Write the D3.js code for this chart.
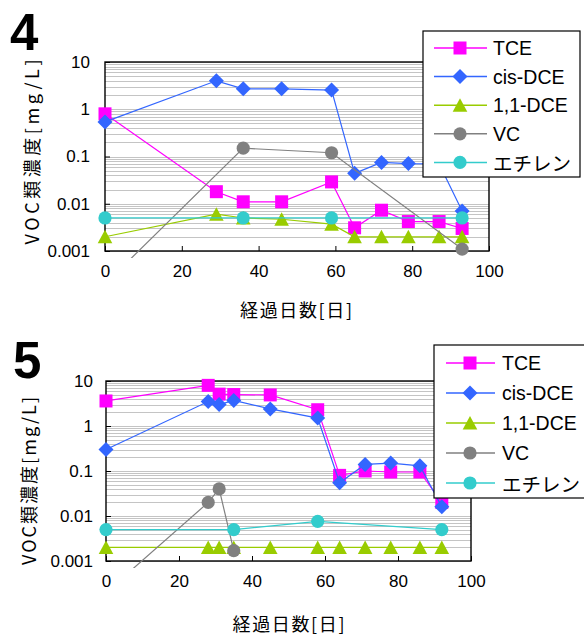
<!DOCTYPE html>
<html><head><meta charset="utf-8">
<script src="https://cdn.jsdelivr.net/npm/d3@7"></script>
<style>body{margin:0;background:#fff}svg{display:block}</style>
</head><body>
<svg id="c" width="584" height="635"></svg>
<script>
// ---------- shared ----------
const seriesNames = ["TCE", "cis-DCE", "1,1-DCE", "VC", "エチレン"];
const seriesColors = ["#ff00ff", "#3366ff", "#99cc00", "#808080", "#33cccc"];
const seriesSymbols = ["square", "diamond", "triangle", "circle", "circle"];
const xTickValues = [0, 20, 40, 60, 80, 100];
const yTickValues = [0.001, 0.01, 0.1, 1, 10];
const yTickLabels = ["0.001", "0.01", "0.1", "1", "10"];
const xAxisTitle = "経過日数[日]";
const yAxisTitle = "VOC類濃度[mg/L]";

// ---------- chart 4 ----------
const c4Days = [0, 29, 36, 46, 59, 65, 72, 79, 87, 93];
const c4TCE = [0.8, 0.018, 0.011, 0.011, 0.029, 0.0031, 0.0073, 0.0042, 0.0042, 0.003];
const c4CisDCE = [0.54, 4.0, 2.7, 2.7, 2.55, 0.044, 0.075, 0.071, 0.07, 0.007];
const c4DCE11 = [0.002, 0.006, 0.005, 0.0047, 0.0037, 0.002, 0.002, 0.002, 0.002, 0.002];
const c4VCDays = [0, 36, 59, 93];
const c4VC = [0.0002, 0.15, 0.12, 0.0011];
const c4EthDays = [0, 36, 59, 93];
const c4Eth = [0.005, 0.005, 0.005, 0.005];

// ---------- chart 5 ----------
const c5Days = [0, 28, 31, 35, 45, 58, 64, 71, 78, 86, 92];
const c5TCE = [3.6, 8.0, 5.1, 5.0, 4.9, 2.3, 0.08, 0.10, 0.095, 0.095, 0.02];
const c5CisDCE = [0.3, 3.5, 3.0, 3.7, 2.4, 1.5, 0.055, 0.14, 0.15, 0.13, 0.016];
const c5DCE11 = [0.002, 0.002, 0.002, 0.002, 0.002, 0.002, 0.002, 0.002, 0.002, 0.002, 0.002];
const c5VCDays = [0, 28, 31, 35];
const c5VC = [0.0002, 0.02, 0.04, 0.0017];
const c5EthDays = [0, 35, 58, 92];
const c5Eth = [0.005, 0.005, 0.0076, 0.005];

const svg = d3.select("#c");
const LATIN = "'Liberation Sans', Arial, 'Noto Sans CJK JP', sans-serif";
const CJK = "'Noto Sans CJK JP', 'Liberation Sans', sans-serif";

function symbolPath(kind) {
  if (kind === "square") return "M-6.5,-6.5H6.5V6.5H-6.5Z";
  if (kind === "diamond") return "M0,-7.5L7.5,0L0,7.5L-7.5,0Z";
  if (kind === "triangle") return "M0,-7L7.3,6.5H-7.3Z";
  return d3.symbol(d3.symbolCircle, Math.PI * 6.6 * 6.6)();
}

function drawChart(cfg) {
  const g = svg.append("g");
  const x = d3.scaleLinear().domain([0, 100]).range([cfg.left, cfg.right]);
  const y = d3.scaleLog().domain([0.001, 10]).range([cfg.bottom, cfg.top]);

  // panel number
  g.append("text").attr("x", cfg.numX).attr("y", cfg.numY)
    .attr("font-family", LATIN).attr("font-weight", "bold").attr("font-size", 51)
    .text(cfg.num);

  // gridlines (minor + major)
  const grid = [];
  for (let e = -3; e < 1; e++) for (let m = 1; m <= 9; m++) grid.push(m * Math.pow(10, e));
  grid.push(10);
  g.append("g").selectAll("line").data(grid).join("line")
    .attr("x1", cfg.left).attr("x2", cfg.right)
    .attr("y1", d => Math.round(y(d)) + 0.5).attr("y2", d => Math.round(y(d)) + 0.5)
    .attr("stroke", "#c4c4c4").attr("stroke-width", 1);

  // axes
  const yAxis = d3.axisLeft(y).tickValues(yTickValues).tickSize(-5)
    .tickFormat((d, i) => yTickLabels[i]).tickPadding(cfg.yPad);
  const ya = g.append("g").attr("transform", `translate(${cfg.left},0)`).call(yAxis);
  ya.select(".domain").remove();
  ya.selectAll("line").attr("stroke", "#000");
  ya.selectAll("text").attr("font-family", LATIN).attr("font-size", 17).attr("fill", "#000");

  const xAxis = d3.axisBottom(x).tickValues(xTickValues).tickSize(-5).tickPadding(cfg.xPad);
  const xa = g.append("g").attr("transform", `translate(0,${cfg.bottom})`).call(xAxis);
  xa.select(".domain").remove();
  xa.selectAll("line").attr("stroke", "#000");
  xa.selectAll("text").attr("font-family", LATIN).attr("font-size", 17).attr("fill", "#000");

  // plot border
  g.append("rect").attr("x", cfg.left).attr("y", cfg.top)
    .attr("width", cfg.right - cfg.left).attr("height", cfg.bottom - cfg.top)
    .attr("fill", "none").attr("stroke", "#000").attr("stroke-width", 1.4);

  // titles
  g.append("text").attr("x", (cfg.left + cfg.right) / 2 + cfg.xTitleDx).attr("y", cfg.xTitleY)
    .attr("text-anchor", "middle").attr("font-family", CJK).attr("font-size", 18)
    .attr("textLength", 112).attr("lengthAdjust", "spacing").text(xAxisTitle);
  g.append("text").attr("transform", `translate(${cfg.yTitleX},${cfg.yTitleY}) rotate(-90)`)
    .attr("text-anchor", "middle").attr("dominant-baseline", "central")
    .attr("font-family", CJK).attr("font-size", 18)
    .attr("textLength", cfg.yTitleLen).attr("lengthAdjust", "spacing").text(yAxisTitle);

  // clip
  const cid = "clip" + cfg.num;
  svg.append("defs").append("clipPath").attr("id", cid).append("rect")
    .attr("x", cfg.left - 12).attr("y", cfg.top - 12)
    .attr("width", cfg.right - cfg.left + 24).attr("height", cfg.bottom - cfg.top + 19);

  const plot = g.append("g").attr("clip-path", `url(#${cid})`);
  const line = d3.line().x(d => x(d[0])).y(d => y(d[1]));
  cfg.series.forEach((s, i) => {
    const pts = s.days.map((d, k) => [d, s.vals[k]]);
    plot.append("path").datum(pts).attr("d", line)
      .attr("fill", "none").attr("stroke", seriesColors[i]).attr("stroke-width", 1.2);
    plot.append("g").selectAll("path").data(pts).join("path")
      .attr("transform", d => `translate(${x(d[0])},${y(d[1])})`)
      .attr("d", symbolPath(seriesSymbols[i])).attr("fill", seriesColors[i]);
  });

  // legend
  const L = cfg.legend;
  const lg = g.append("g");
  lg.append("rect").attr("x", L.x0).attr("y", L.y0).attr("width", L.x1 - L.x0).attr("height", L.y1 - L.y0)
    .attr("fill", "#fff").attr("stroke", "#000").attr("stroke-width", 1.2);
  seriesNames.forEach((n, i) => {
    const yy = L.rowY + i * L.rowH;
    lg.append("line").attr("x1", L.lx0).attr("x2", L.lx1).attr("y1", yy).attr("y2", yy)
      .attr("stroke", seriesColors[i]).attr("stroke-width", 1.5);
    lg.append("path").attr("transform", `translate(${L.mx},${yy})`)
      .attr("d", symbolPath(seriesSymbols[i])).attr("fill", seriesColors[i]);
    lg.append("text").attr("x", L.tx).attr("y", yy).attr("dominant-baseline", "central")
      .attr("font-family", i === 4 ? CJK : LATIN).attr("font-size", 19.5).text(n);
  });
}

drawChart({
  num: "4", numX: 10, numY: 50,
  left: 105, right: 489, top: 62, bottom: 251,
  yPad: 15, xPad: 14, xTitleDx: -1, xTitleY: 317,
  yTitleX: 31, yTitleY: 152, yTitleLen: 185,
  legend: { x0: 423, y0: 31, x1: 580, y1: 177, rowY: 48, rowH: 28.6, lx0: 434, lx1: 487, mx: 460, tx: 493 },
  series: [
    { days: c4Days, vals: c4TCE },
    { days: c4Days, vals: c4CisDCE },
    { days: c4Days, vals: c4DCE11 },
    { days: c4VCDays, vals: c4VC },
    { days: c4EthDays, vals: c4Eth }
  ]
});

drawChart({
  num: "5", numX: 13, numY: 378,
  left: 106, right: 471, top: 381, bottom: 561,
  yPad: 13, xPad: 14, xTitleDx: 0, xTitleY: 631,
  yTitleX: 28, yTitleY: 481, yTitleLen: 168,
  legend: { x0: 434, y0: 345, x1: 592, y1: 498, rowY: 363, rowH: 30, lx0: 446, lx1: 495, mx: 470, tx: 502 },
  series: [
    { days: c5Days, vals: c5TCE },
    { days: c5Days, vals: c5CisDCE },
    { days: c5Days, vals: c5DCE11 },
    { days: c5VCDays, vals: c5VC },
    { days: c5EthDays, vals: c5Eth }
  ]
});
</script>
</body></html>
